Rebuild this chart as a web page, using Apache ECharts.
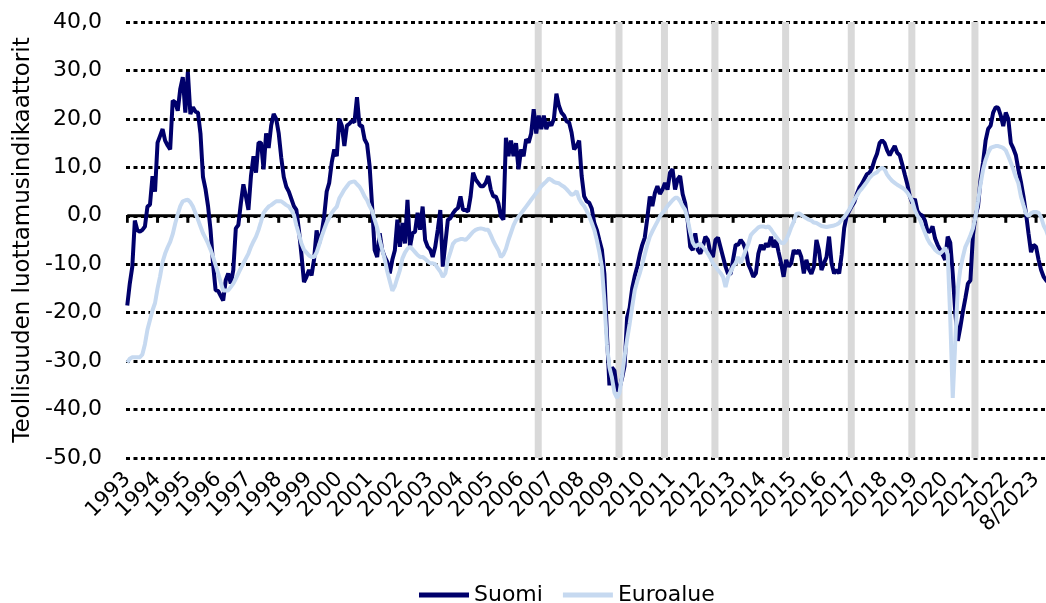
<!DOCTYPE html>
<html>
<head>
<meta charset="utf-8">
<script src="https://cdn.jsdelivr.net/npm/echarts@6/dist/echarts.min.js"></script>
<style>
  html, body { margin: 0; padding: 0; background: #fff; }
  #chart { width: 1046px; height: 603px; }
</style>
</head>
<body>
<div id="chart"></div>
<script>
// monthly readings, Jan 1993 .. Aug 2023 (one row per year)
const suomi = [
  -18.5, -14, -10.5, -1, -3, -3.3, -2.9, -2.2, 1.9, 2.3, 8.2, 5,
  15.1, 16.5, 17.9, 15.5, 14.5, 13.7, 23.8, 23.4, 21.7, 26.2, 28.6, 21.3,
  29.7, 21, 22.4, 21.5, 21.3, 17, 8, 5.5, 2, -3, -10, -15.4,
  -15.5, -16.5, -17.5, -13.3, -11.9, -14, -11.2, -2.6, -1.9, 2.6, 6.5, 4,
  1.2, 8.2, 12.3, 8.9, 15.1, 15.1, 9.6, 17, 14, 18.6, 21, 20,
  17, 12, 8, 6, 5, 3.5, 2, 1.2, -3, -8, -13.7, -12.6,
  -11.2, -12.3, -9, -3, -5.7, -3.6, -0.1, 5, 6.8, 11, 13.7, 12.3,
  20, 18.6, 14.4, 18.6, 19, 19.6, 19.3, 24.5, 18.6, 18.6, 15.8, 14.8,
  10.3, 1.9, -7.1, -8.5, -3.6, -7.1, -8.5, -9.5, -11.9, -9.1, -7.1, -0.8,
  -6.4, -1.5, -5.7, 3.3, -6.4, -3.6, -3.3, 0.6, -2.9, 1.9, -5, -6.4,
  -7, -8.5, -6.4, -2.9, 1.2, -10.5, -5.7, -0.8, -0.5, 0.5, 1.2, 1.6,
  4, 1.2, 1.2, 0.9, 4, 8.9, 7.5, 6.8, 6.1, 6.1, 6.8, 8.2,
  5.4, 4, 4, 2.6, -0.1, -0.8, 16.1, 12.3, 15.5, 12.3, 15, 9.6,
  13.7, 12.3, 15.8, 15.1, 17, 22, 17, 20.7, 17.9, 20.7, 17.9, 19.3,
  18.6, 20, 25.2, 22.7, 21.3, 20.7, 19.5, 19.3, 17.2, 13.7, 14.4, 15.5,
  8.2, 4, 3, 2.7, 1.5, -1.5, -2.9, -5, -7, -12, -24.4, -35,
  -31.3, -32, -36.2, -35.5, -33.5, -31, -21, -19, -15, -12.5, -10.5, -8,
  -6, -4.5, -0.5, 4, 2, 4.7, 6.1, 4.5, 5.4, 6.8, 5.4, 8.9,
  9.6, 5.4, 7.5, 8.2, 4.5, 2.6, -1, -6.4, -7.1, -3.6, -7.1, -7.8,
  -6.4, -4.3, -5, -7.8, -8.5, -5, -4.5, -6.5, -8.5, -10.5, -12, -12,
  -9, -6, -6, -5, -5.7, -7.1, -10, -11.2, -12.6, -11.9, -7.8, -6,
  -7, -5.7, -6.4, -4.3, -6.5, -5, -7.5, -9.8, -12.6, -9.1, -10.5, -9.8,
  -7.1, -7.8, -7.1, -8.5, -11.9, -9.1, -11, -12, -10.5, -5, -7.1, -11.2,
  -9.8, -8.5, -4.3, -9.8, -11.9, -11.2, -11.9, -8, -2.5, 0, 1, 2,
  2.8, 4.5, 5.8, 6.6, 7.6, 8.6, 8.9, 9.8, 11.5, 12.8, 15, 15.6,
  15, 13.5, 12.5, 13.5, 14.4, 13, 12.5, 10.6, 8.5, 6.5, 4, 2.6,
  3.5, 1, 0.3, 0, -1, -3.2, -3.3, -2.2, -4.7, -6, -7, -8,
  -9.1, -4.3, -5.5, -12, -20, -25.8, -23, -19.8, -17, -14, -13.3, -4,
  0, 1.9, 7.5, 11, 15.5, 17.9, 18.6, 21.3, 22.4, 22.3, 20.7, 18.5,
  21.3, 20, 15, 13.9, 12.5, 9.5, 7, 4, 0.5, -3.6, -7.5, -6,
  -6.4, -9.1, -11.2, -12.6, -13.3, -14, -13.5, -13
];

const euroalue = [
  -30.3, -29.5, -29.2, -29.2, -29.2, -29.2, -28.6, -26.5, -23.5, -21.5, -19.5, -18,
  -15, -12.5, -9.5, -7.8, -6.5, -5.4, -3.8, -1.6, 0.3, 2, 3, 3.2,
  3.3, 2.8, 1.9, 0.6, -0.8, -2.2, -3.6, -4.6, -5.7, -7, -8.5, -10.2,
  -11.9, -13.7, -15.4, -15.4, -15.4, -14.7, -14, -13, -11.9, -10.8, -9.8, -8.8,
  -7.8, -6.4, -5.3, -4.3, -2.9, -1.2, 0.6, 1.3, 1.9, 2.2, 2.6, 3,
  3, 3, 2.6, 2.2, 1.9, 1.2, 0.2, -2, -3.8, -5.7, -7, -7.6,
  -8.2, -8.5, -8.5, -7.6, -6, -4.3, -2.8, -1.4, -0.4, 0.6, 1.3, 1.9,
  3.6, 4.5, 5.4, 6.1, 6.8, 7, 7.1, 6.5, 6, 5.1, 4, 3.2,
  2, 1, -0.8, -2.5, -5, -7, -9, -11.5, -13.5, -15.5, -14.5, -12.8,
  -11.2, -8.8, -7.6, -6.8, -6.4, -6.9, -7.5, -8.1, -8.5, -8.5, -8.9, -9.4,
  -9.8, -9.8, -10, -10.8, -11.5, -12.6, -11.9, -9.1, -7.5, -5.8, -5.2, -5,
  -4.8, -4.8, -5, -4.5, -3.9, -3.3, -2.9, -2.7, -2.6, -2.7, -2.9, -2.9,
  -4, -5.2, -6.2, -7.1, -8.5, -8, -6.8, -5, -3.5, -2, -0.9, -0.2,
  0.5, 1.2, 1.9, 2.6, 3.3, 4, 4.7, 5.4, 6.1, 6.6, 7.1, 7.7,
  7.4, 7, 6.8, 6.7, 6.3, 6, 5.5, 4.9, 4.3, 4.5, 5.1, 3.5,
  2.6, 2, 1, -0.1, -1.5, -2.9, -5, -7.5, -10.5, -17.5, -26.5, -31.3,
  -33.5, -36.5, -37.6, -36.5, -33, -29, -25.5, -22.3, -18.8, -15.5, -13.5, -11.9,
  -10, -8, -6, -4.3, -3.2, -2.2, -1.2, -0.1, 0.6, 1.2, 2, 2.6,
  3.2, 3.7, 3.7, 3, 2, 1.2, -0.8, -3.4, -5.5, -6.4, -6, -5.8,
  -6.4, -7, -7.8, -8.7, -9.8, -10.5, -11.2, -11.8, -12.6, -14.7, -12.6, -11.6,
  -10.5, -9.8, -8.5, -9.8, -8.5, -7.1, -5.8, -4, -3.4, -2.9, -2.4, -2.2,
  -2.2, -2.4, -2.2, -2.8, -3.6, -4.3, -5, -5.6, -5.7, -5, -3.8, -2.4,
  -1.2, 0.4, 0.5, 0.2, -0.2, -0.5, -0.8, -1, -1.4, -1.5, -1.8, -2.1,
  -2.2, -2.3, -2.2, -2.1, -2, -1.8, -1.5, -0.8, -0.3, 0.5, 1.3, 2.3,
  3.3, 4.1, 5, 5.6, 6.3, 7, 7.8, 8.4, 8.7, 9, 9.6, 9.9,
  9.6, 8.5, 7.8, 7.2, 6.8, 6.4, 6.1, 5.8, 5.4, 4.8, 4, 3,
  1.2, 0, -0.8, -2.2, -3.5, -4.8, -5.7, -6.3, -7, -7.5, -7.8, -7.3,
  -6.6, -8, -21, -37.6, -26, -15, -11, -8.5, -6.4, -5.3, -4, -2.6,
  -0.3, 3, 6.5, 9.5, 11.5, 13, 14, 14.2, 14.4, 14.4, 14.2, 14,
  13.5, 12.3, 11, 9.6, 8, 6.7, 4, 2.2, 0.5, -0.1, 0.5, 0.8,
  0.8, 0.6, -0.3, -2, -3, -4.5, -5.5, -6
];

// one label per 12 months, as printed under the axis
const tickLabels = [
  '1993', '1994', '1995', '1996', '1997', '1998', '1999', '2000', '2001', '2002',
  '2003', '2004', '2005', '2006', '2007', '2008', '2009', '2010', '2011', '2012',
  '2013', '2014', '2015', '2016', '2017', '2018', '2019', '2020', '2021', '2022',
  '8/2023'
];

// months marked with the grey vertical bands
const bandMonths = ['2006-07', '2009-03', '2010-09', '2012-05', '2014-09', '2016-11', '2018-11', '2020-12'];

const yMin = -50;
const yMax = 40;
const tickDepth = -1.45; // length of the year ticks under the zero line, in axis units

const months = [];
for (let i = 0; i < suomi.length; i++) {
  const y = 1993 + Math.floor(i / 12);
  const m = (i % 12) + 1;
  months.push(y + '-' + (m < 10 ? '0' + m : m));
}

const everyYear = i => i % 12 === 0;

const bandTop = months.map(m => bandMonths.indexOf(m) >= 0 ? yMax : '-');
const bandBottom = months.map(m => bandMonths.indexOf(m) >= 0 ? yMin : '-');
// the horizontal axis sits on zero, with a short tick at each year
const zeroAxis = months.map(() => 0);
const yearTicks = months.map((m, i) => everyYear(i) ? tickDepth : '-');

const font = 'DejaVu Sans';

const chart = echarts.init(document.getElementById('chart'));

const option = {
  animation: false,
  textStyle: { fontFamily: font },
  grid: { left: 126, top: 22, width: 929, height: 436, outerBoundsMode: 'none', containLabel: false },
  legend: {
    data: ['Suomi', 'Euroalue'],
    top: 579,
    left: 414,
    icon: 'rect',
    itemWidth: 50,
    itemHeight: 5,
    itemGap: 20,
    textStyle: { fontFamily: font, fontSize: 22, color: '#000' }
  },
  xAxis: {
    type: 'category',
    data: months,
    position: 'bottom',
    axisLine: { show: false, onZero: false },
    axisTick: { show: false },
    axisLabel: {
      interval: everyYear,
      rotate: 45,
      margin: 18,
      fontFamily: font,
      fontSize: 21,
      color: '#000',
      formatter: (v, i) => tickLabels[i / 12] || ''
    },
    splitLine: { show: false }
  },
  yAxis: {
    type: 'value',
    min: yMin,
    max: yMax,
    interval: 10,
    name: 'Teollisuuden luottamusindikaattorit',
    nameLocation: 'middle',
    nameRotate: 90,
    nameGap: 90,
    nameTextStyle: { fontFamily: font, fontSize: 23, color: '#000' },
    axisLine: { show: false },
    axisTick: { show: false },
    axisLabel: {
      margin: 24,
      fontFamily: font,
      fontSize: 22,
      color: '#000',
      formatter: v => v.toFixed(1).replace('.', ',')
    },
    splitLine: { show: true, lineStyle: { color: '#000', width: 3, type: [4, 3.5] } }
  },
  series: [
    {
      name: 'band',
      type: 'bar',
      stack: 'band',
      data: bandTop,
      barWidth: 7,
      silent: true,
      itemStyle: { color: '#d9d9d9' },
      z: 1
    },
    {
      name: 'band2',
      type: 'bar',
      stack: 'band',
      data: bandBottom,
      barWidth: 7,
      silent: true,
      itemStyle: { color: '#d9d9d9' },
      z: 1
    },
    {
      name: 'ticks',
      type: 'bar',
      data: yearTicks,
      barWidth: 3,
      barGap: '-100%',
      silent: true,
      itemStyle: { color: '#000' },
      z: 2
    },
    {
      name: 'zero',
      type: 'line',
      data: zeroAxis,
      symbol: 'none',
      silent: true,
      color: '#000',
      lineStyle: { color: '#000', width: 3 },
      z: 3
    },
    {
      name: 'Suomi',
      type: 'line',
      data: suomi,
      symbol: 'none',
      color: '#00006b',
      lineStyle: { color: '#00006b', width: 4 },
      z: 3
    },
    {
      name: 'Euroalue',
      type: 'line',
      data: euroalue,
      symbol: 'none',
      color: '#c6d9f0',
      lineStyle: { color: '#c6d9f0', width: 4 },
      z: 4
    }
  ]
};

chart.setOption(option);
</script>
</body>
</html>
